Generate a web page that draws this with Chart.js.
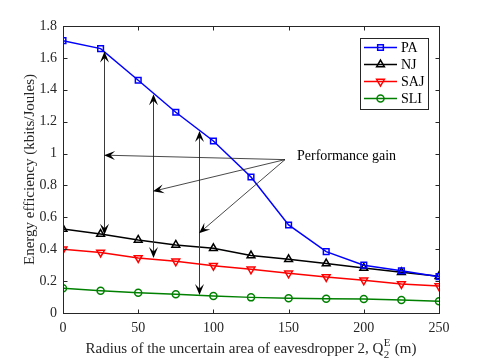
<!DOCTYPE html>
<html lang="en">
<head>
  <meta charset="UTF-8" />
  <title>Energy efficiency vs radius</title>
  <script src="https://cdn.jsdelivr.net/npm/chart.js"></script>
  <style>
    body {
      margin: 0;
      padding: 0;
      background: #ffffff;
    }
    canvas {
      display: block;
    }
  </style>
</head>
<body>
  <canvas id="eeChart" width="485" height="363"></canvas>

  <script>
  // data
  const radius = [0, 25, 50, 75, 100, 125, 150, 175, 200, 225, 250];
  const pa  = [1.708, 1.658, 1.46, 1.259, 1.079, 0.853, 0.552, 0.385, 0.30, 0.265, 0.228];
  const nj  = [0.527, 0.495, 0.458, 0.427, 0.406, 0.36, 0.337, 0.31, 0.282, 0.255, 0.23];
  const saj = [0.40, 0.38, 0.345, 0.324, 0.297, 0.274, 0.249, 0.226, 0.205, 0.182, 0.169];
  const sli = [0.155, 0.14, 0.127, 0.117, 0.107, 0.098, 0.092, 0.09, 0.088, 0.082, 0.073];
  const xTicks = [0, 50, 100, 150, 200, 250];
  const yTicks = [0, 0.2, 0.4, 0.6, 0.8, 1, 1.2, 1.4, 1.6, 1.8];

  const serif = '"Liberation Serif", "Times New Roman", serif';
  const axisColor = '#262626';

  function pts(ys) {
    return radius.map((x, i) => ({ x: x, y: ys[i] }));
  }

  const series = [
    { label: 'PA',  data: pa,  color: '#0000ff', style: 'rect',     rot: 0,   r: 4 },
    { label: 'NJ',  data: nj,  color: '#000000', style: 'triangle', rot: 0,   r: 4.5 },
    { label: 'SAJ', data: saj, color: '#ff0000', style: 'triangle', rot: 180, r: 4.5 },
    { label: 'SLI', data: sli, color: '#008000', style: 'circle',   rot: 0,   r: 3.5 }
  ];

  // arrowhead, MATLAB "vback2" look
  function head(ctx, x, y, ang) {
    ctx.save();
    ctx.translate(x, y);
    ctx.rotate(ang);
    ctx.beginPath();
    ctx.moveTo(0, 0);
    ctx.lineTo(-11, 4.5);
    ctx.lineTo(-6.5, 0);
    ctx.lineTo(-11, -4.5);
    ctx.closePath();
    ctx.fill();
    ctx.restore();
  }

  const frame = {
    id: 'frame',
    afterDatasetsDraw(chart) {
      const ctx = chart.ctx;
      const a = chart.chartArea;
      const xs = chart.scales.x, ys = chart.scales.y;
      ctx.save();

      // performance gain arrows (data coords)
      const vx = [27.3, 60, 90.4], vTop = [1.64, 1.372, 1.142], vBot = [0.49, 0.345, 0.113];
      ctx.strokeStyle = '#3a3a3a';
      ctx.fillStyle = '#000';
      ctx.lineWidth = 1;
      vx.forEach((x, i) => {
        const px = Math.round(xs.getPixelForValue(x)) + 0.5;
        const t = ys.getPixelForValue(vTop[i]), b = ys.getPixelForValue(vBot[i]);
        ctx.beginPath();
        ctx.moveTo(px, t + 4);
        ctx.lineTo(px, b - 4);
        ctx.stroke();
        head(ctx, px, t, -Math.PI / 2);
        head(ctx, px, b, Math.PI / 2);
      });

      const src = { x: xs.getPixelForValue(147.6), y: ys.getPixelForValue(0.962) };
      const tx = [27.3, 59.8, 90.4], ty = [0.99, 0.763, 0.50];
      ctx.strokeStyle = '#1a1a1a';
      ctx.lineWidth = 0.8;
      tx.forEach((x, i) => {
        const px = xs.getPixelForValue(x), py = ys.getPixelForValue(ty[i]);
        const ang = Math.atan2(py - src.y, px - src.x);
        ctx.beginPath();
        ctx.moveTo(src.x, src.y);
        ctx.lineTo(px - 5 * Math.cos(ang), py - 5 * Math.sin(ang));
        ctx.stroke();
        head(ctx, px, py, ang);
      });
      ctx.font = '14px ' + serif;
      ctx.fillStyle = '#000';
      ctx.textAlign = 'left';
      ctx.textBaseline = 'middle';
      ctx.fillText('Performance gain', src.x + 12, src.y - 3);

      // box and inward ticks
      ctx.strokeStyle = axisColor;
      ctx.lineWidth = 1;
      const L = Math.round(a.left) + 0.5, R = Math.round(a.right) + 0.5;
      const T = Math.round(a.top) + 0.5, B = Math.round(a.bottom) + 0.5;
      ctx.strokeRect(L, T, R - L, B - T);
      ctx.beginPath();
      xTicks.forEach(v => {
        const px = Math.round(xs.getPixelForValue(v)) + 0.5;
        ctx.moveTo(px, B); ctx.lineTo(px, B - 4);
        ctx.moveTo(px, T); ctx.lineTo(px, T + 4);
      });
      yTicks.forEach(v => {
        const py = Math.round(ys.getPixelForValue(v)) + 0.5;
        ctx.moveTo(L, py); ctx.lineTo(L + 4, py);
        ctx.moveTo(R, py); ctx.lineTo(R - 4, py);
      });
      ctx.stroke();

      // legend
      const lx = 360.5, ly = 38.5, lw = 68, lh = 71;
      ctx.fillStyle = '#fff';
      ctx.fillRect(lx, ly, lw, lh);
      ctx.strokeStyle = axisColor;
      ctx.strokeRect(lx, ly, lw, lh);
      ctx.font = '14px ' + serif;
      ctx.textBaseline = 'middle';
      series.forEach((s, i) => {
        const yy = 47.5 + i * 17;
        ctx.strokeStyle = s.color;
        ctx.lineWidth = 1.5;
        ctx.beginPath();
        ctx.moveTo(364, yy); ctx.lineTo(397, yy);
        ctx.stroke();
        ctx.fillStyle = 'rgba(0,0,0,0)';
        Chart.helpers.drawPoint(ctx, {
          pointStyle: s.style, rotation: s.rot, radius: s.r, borderWidth: 1.5
        }, 380.5, yy);
        ctx.fillStyle = '#000';
        ctx.fillText(s.label, 401, yy + 1);
      });

      // axis labels
      ctx.fillStyle = axisColor;
      ctx.font = '15px ' + serif;
      ctx.textAlign = 'center';
      ctx.textBaseline = 'middle';
      ctx.save();
      ctx.translate(30, (a.top + a.bottom) / 2);
      ctx.rotate(-Math.PI / 2);
      ctx.fillText('Energy efficiency (kbits/Joules)', 0, 0);
      ctx.restore();

      const main = 'Radius of the uncertain area of eavesdropper 2, Q';
      const tail = ' (m)';
      ctx.font = '15px ' + serif;
      const w1 = ctx.measureText(main).width, w3 = ctx.measureText(tail).width;
      ctx.font = '11px ' + serif;
      const w2 = Math.max(ctx.measureText('E').width, ctx.measureText('2').width) + 1;
      let x0 = (a.left + a.right) / 2 - (w1 + w2 + w3) / 2;
      const base = 353;
      ctx.textAlign = 'left';
      ctx.textBaseline = 'alphabetic';
      ctx.font = '15px ' + serif;
      ctx.fillText(main, x0, base);
      ctx.font = '11px ' + serif;
      ctx.fillText('E', x0 + w1 + 0.5, base - 7);
      ctx.fillText('2', x0 + w1 + 0.5, base + 5);
      ctx.font = '15px ' + serif;
      ctx.fillText(tail, x0 + w1 + w2, base);
      ctx.restore();
    }
  };

  new Chart(document.getElementById('eeChart'), {
    type: 'line',
    data: {
      datasets: series.map(s => ({
        label: s.label,
        data: pts(s.data),
        borderColor: s.color,
        backgroundColor: 'rgba(0,0,0,0)',
        borderWidth: 1.5,
        pointStyle: s.style,
        pointRotation: s.rot,
        pointRadius: s.r,
        pointBorderWidth: 1.5,
        pointBorderColor: s.color,
        pointBackgroundColor: 'rgba(0,0,0,0)',
        tension: 0
      }))
    },
    options: {
      responsive: false,
      animation: false,
      events: [],
      layout: { padding: { top: 26, right: 46, left: 0, bottom: 0 } },
      plugins: { legend: { display: false }, tooltip: { enabled: false } },
      scales: {
        x: {
          type: 'linear',
          min: 0,
          max: 250,
          afterFit: s => { s.height = 50; },
          afterBuildTicks: s => { s.ticks = xTicks.map(v => ({ value: v })); },
          grid: { display: false, drawTicks: false },
          border: { display: false },
          ticks: { padding: 7, color: axisColor, font: { family: serif, size: 14 }, maxRotation: 0 }
        },
        y: {
          min: 0,
          max: 1.8,
          afterFit: s => { s.width = 63; },
          afterBuildTicks: s => { s.ticks = yTicks.map(v => ({ value: v })); },
          grid: { display: false, drawTicks: false },
          border: { display: false },
          ticks: {
            padding: 6,
            color: axisColor,
            font: { family: serif, size: 14 },
            callback: v => String(+v.toFixed(1))
          }
        }
      }
    },
    plugins: [frame]
  });
  </script>
</body>
</html>
